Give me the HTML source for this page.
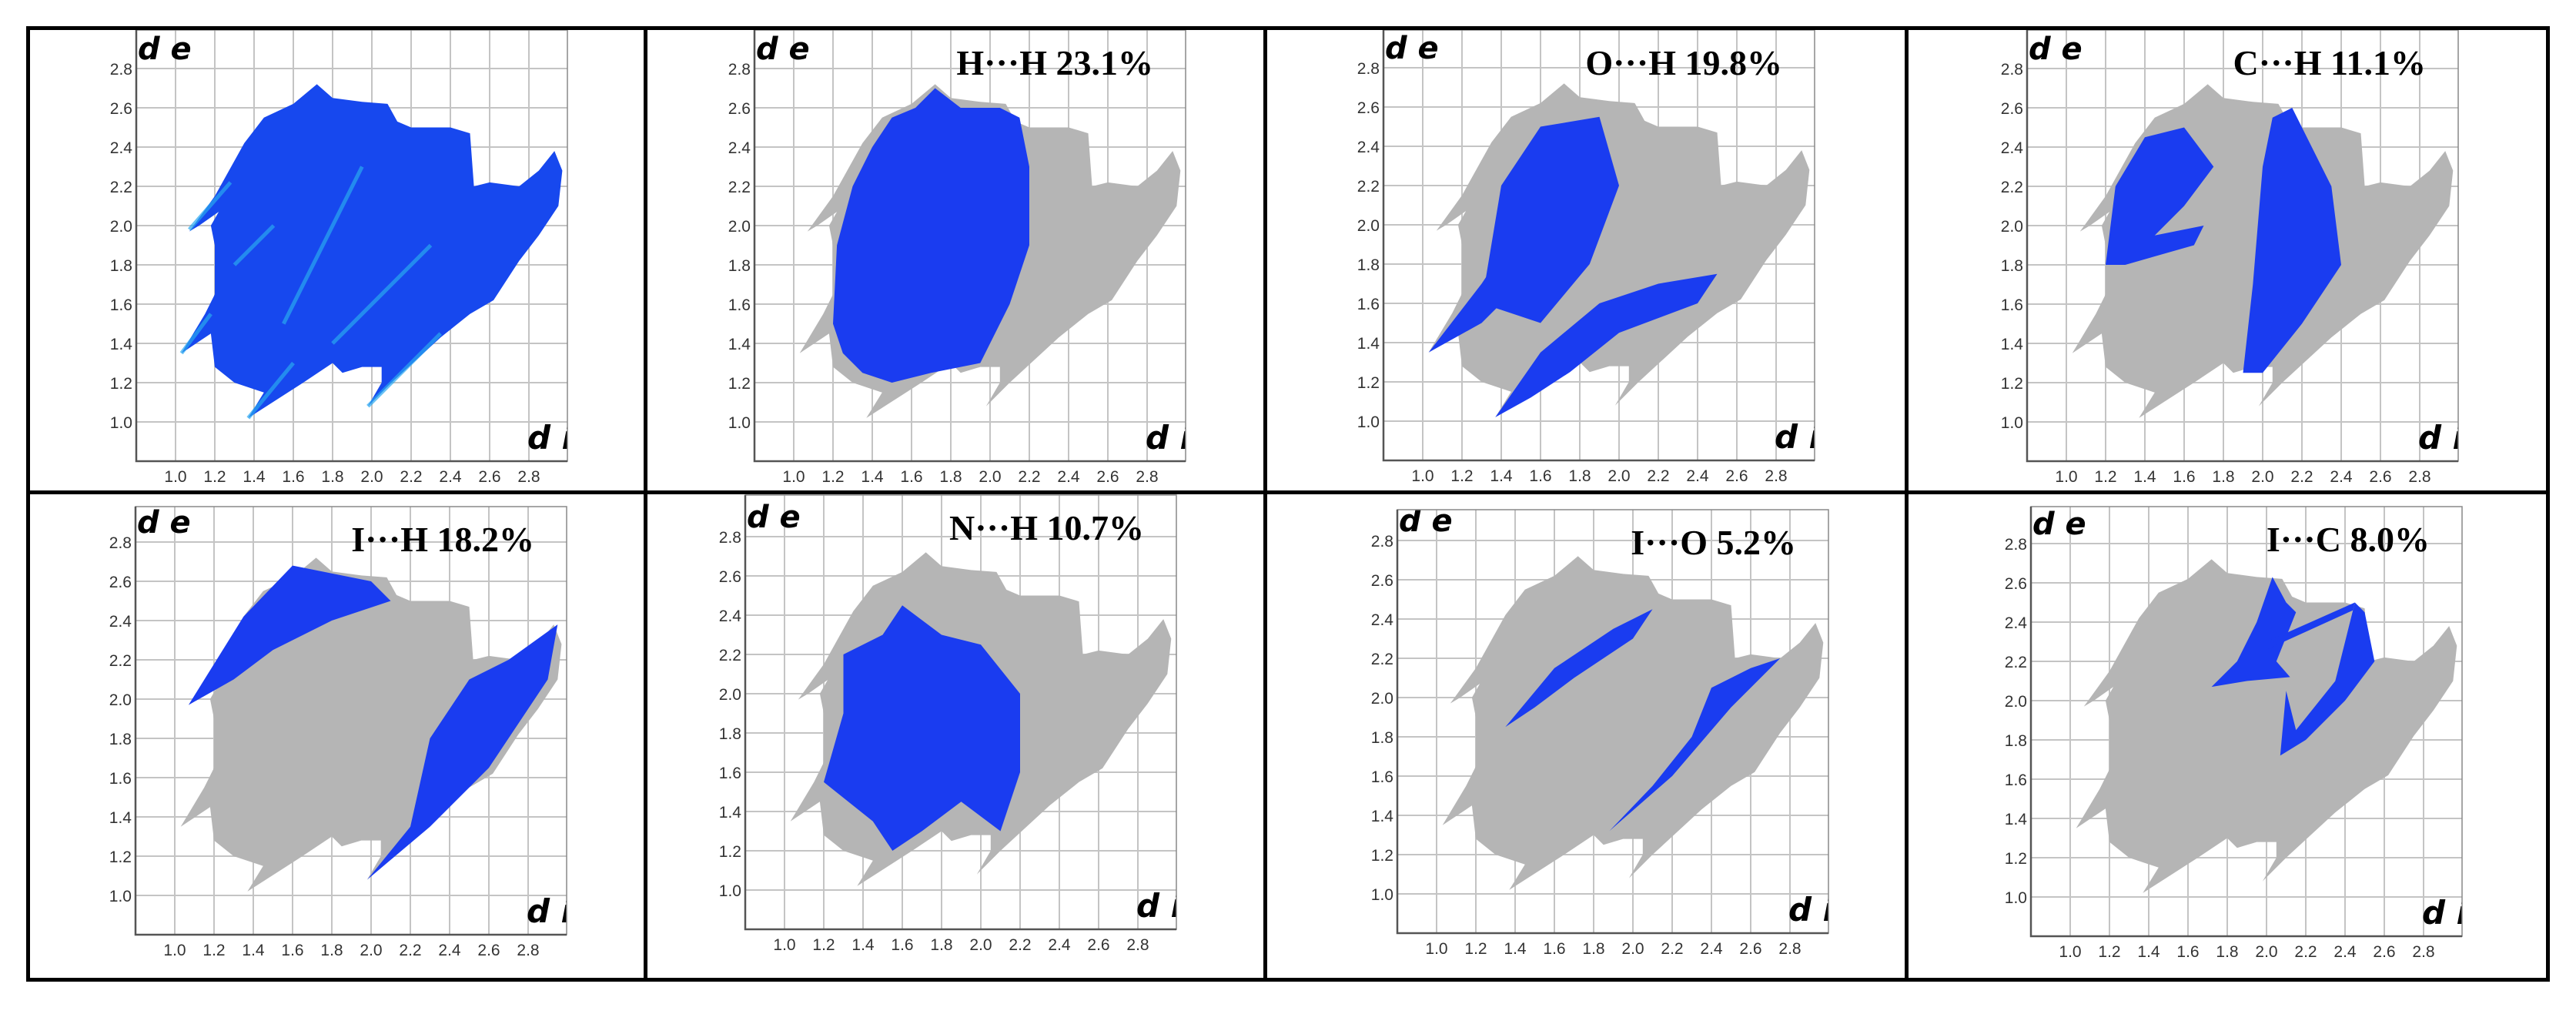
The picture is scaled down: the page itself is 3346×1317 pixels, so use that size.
<!DOCTYPE html>
<html><head><meta charset="utf-8"><style>
html,body{margin:0;padding:0;background:#fff;}
svg{display:block;}
</style></head><body>
<svg id="fig" xmlns="http://www.w3.org/2000/svg" width="3346" height="1317" viewBox="0 0 3346 1317">
<rect x="0" y="0" width="3346" height="1317" fill="#fff"/>
<g id="panels"></g>
<g fill="#000">
<rect x="34" y="34" width="3278" height="5"/>
<rect x="34" y="1270" width="3278" height="5"/>
<rect x="34" y="34" width="5" height="1241"/>
<rect x="3307" y="34" width="5" height="1241"/>
<rect x="34" y="637" width="3278" height="5"/>
<rect x="836" y="34" width="5" height="1241"/>
<rect x="1641" y="34" width="5" height="1241"/>
<rect x="2474" y="34" width="5" height="1241"/>
</g>
</svg>
<script>
// ---- data (di, de) ----
const tickValues = [1.0,1.2,1.4,1.6,1.8,2.0,2.2,2.4,2.6,2.8];
const tickLabels = ["1.0","1.2","1.4","1.6","1.8","2.0","2.2","2.4","2.6","2.8"];
const panelTitles = ["", "H\u00B7\u00B7\u00B7H 23.1%", "O\u00B7\u00B7\u00B7H 19.8%", "C\u00B7\u00B7\u00B7H 11.1%", "I\u00B7\u00B7\u00B7H 18.2%", "N\u00B7\u00B7\u00B7H 10.7%", "I\u00B7\u00B7\u00B7O 5.2%", "I\u00B7\u00B7\u00B7C 8.0%"];
const fullOutline = [[1.07,1.97],[1.2,2.15],[1.35,2.42],[1.45,2.55],[1.6,2.62],[1.72,2.72],[1.8,2.65],[1.95,2.63],[2.08,2.62],[2.13,2.53],[2.2,2.5],[2.4,2.5],[2.5,2.47],[2.52,2.2],[2.6,2.22],[2.75,2.2],[2.85,2.28],[2.93,2.38],[2.97,2.28],[2.95,2.1],[2.85,1.95],[2.75,1.82],[2.62,1.62],[2.5,1.55],[2.35,1.43],[2.1,1.2],[1.98,1.08],[2.05,1.2],[2.05,1.28],[1.95,1.28],[1.85,1.25],[1.8,1.3],[1.65,1.2],[1.37,1.02],[1.45,1.15],[1.3,1.2],[1.2,1.28],[1.18,1.45],[1.03,1.35],[1.15,1.55],[1.2,1.65],[1.2,1.9],[1.18,2.0],[1.22,2.07],[1.12,2.0]];
const p1Streaks = [[[1.07,1.98],[1.28,2.22]],[[1.03,1.35],[1.18,1.55]],[[1.37,1.02],[1.6,1.3]],[[1.98,1.08],[2.35,1.45]],[[1.3,1.8],[1.5,2.0]],[[1.55,1.5],[1.95,2.3]],[[1.8,1.4],[2.3,1.9]]];
const blueHH = [[[1.2,1.5],[1.22,1.9],[1.3,2.2],[1.4,2.4],[1.5,2.55],[1.62,2.6],[1.72,2.7],[1.85,2.6],[2.05,2.6],[2.15,2.55],[2.2,2.3],[2.2,1.9],[2.1,1.6],[1.95,1.3],[1.7,1.25],[1.5,1.2],[1.35,1.25],[1.25,1.35]]];
const blueOH = [[[1.03,1.35],[1.3,1.7],[1.5,2.0],[1.7,2.3],[1.8,2.4],[1.85,2.2],[1.6,1.8],[1.3,1.5]],[[1.37,1.02],[1.6,1.35],[1.9,1.6],[2.2,1.7],[2.5,1.75],[2.4,1.6],[2.0,1.45],[1.75,1.25],[1.55,1.12]],[[1.3,1.6],[1.4,2.2],[1.6,2.5],[1.9,2.55],[2.0,2.2],[1.85,1.8],[1.6,1.5]]];
const blueCH = [[[1.2,1.8],[1.25,2.2],[1.4,2.45],[1.6,2.5],[1.75,2.3],[1.6,2.1],[1.45,1.95],[1.7,2.0],[1.65,1.9],[1.3,1.8]],[[1.9,1.25],[1.95,1.7],[2.0,2.3],[2.05,2.55],[2.15,2.6],[2.35,2.2],[2.4,1.8],[2.2,1.5],[2.0,1.25]]];
const blueIH = [[[1.07,1.97],[1.35,2.42],[1.6,2.68],[2.0,2.6],[2.1,2.5],[1.8,2.4],[1.5,2.25],[1.3,2.1]],[[1.98,1.08],[2.2,1.35],[2.3,1.8],[2.5,2.1],[2.7,2.2],[2.95,2.38],[2.9,2.1],[2.6,1.65],[2.3,1.35]]];
const blueNH = [[[1.2,1.55],[1.3,1.9],[1.3,2.2],[1.5,2.3],[1.6,2.45],[1.8,2.3],[2.0,2.25],[2.2,2.0],[2.2,1.6],[2.1,1.3],[1.9,1.45],[1.7,1.3],[1.55,1.2],[1.45,1.35]]];
const blueIO = [[[1.35,1.85],[1.6,2.15],[1.9,2.35],[2.1,2.45],[2.0,2.3],[1.7,2.1],[1.5,1.95]],[[1.88,1.32],[2.2,1.6],[2.5,1.95],[2.65,2.1],[2.75,2.2],[2.6,2.15],[2.4,2.05],[2.3,1.8],[2.1,1.55]]];
const blueIC = [[[1.72,2.07],[1.85,2.2],[1.95,2.4],[2.03,2.63],[2.1,2.5],[2.15,2.45],[2.05,2.2],[2.12,2.12],[1.9,2.1]],[[2.0,2.3],[2.45,2.5],[2.44,2.46],[2.0,2.26]],[[2.07,1.72],[2.1,2.05],[2.15,1.85],[2.35,2.1],[2.45,2.5],[2.5,2.45],[2.55,2.2],[2.4,2.0],[2.2,1.8]]];
const blueSets = [null, blueHH, blueOH, blueCH, blueIH, blueNH, blueIO, blueIC];

// ---- layout ----
const layout = [
 {x10:228,y28:89,top:39},{x10:1031,y28:89,top:39},{x10:1848,y28:88,top:39},{x10:2684,y28:89,top:39},
 {x10:227,y28:704,top:658},{x10:1019,y28:697,top:643},{x10:1866,y28:702,top:662},{x10:2689,y28:706,top:658}];
const NS="http://www.w3.org/2000/svg";
const S=255;
function mk(tag,attrs,parent){const e=document.createElementNS(NS,tag);for(const k in attrs)e.setAttribute(k,attrs[k]);parent.appendChild(e);return e;}
const root=document.getElementById('panels');
layout.forEach((L,i)=>{
  const sx=v=>L.x10+(v-1.0)*S;
  const sy=v=>L.y28+(2.8-v)*S;
  const left=sx(0.8), right=sx(2.8)+50, bottom=sy(0.8);
  const g=mk('g',{},root);
  
  
  const cid='clip'+i;
  const cp=mk('clipPath',{id:cid},g);
  mk('rect',{x:left,y:L.top,width:right-left,height:bottom-L.top},cp);
  tickValues.forEach((v,k)=>{
    const gx=mk('line',{x1:sx(v),x2:sx(v),y1:L.top,y2:bottom,stroke:'#c4c4c4','stroke-width':2},g);
    
    
    const gy=mk('line',{x1:left,x2:right,y1:sy(v),y2:sy(v),stroke:'#c4c4c4','stroke-width':2},g);
    
    
    const tx=mk('text',{x:sx(v),y:bottom+27,'text-anchor':'middle','font-family':'Liberation Sans, sans-serif','font-size':21,fill:'#333'},g);
    tx.textContent=tickLabels[k];
    
    
    const ty=mk('text',{x:left-5,y:sy(v)+8,'text-anchor':'end','font-family':'Liberation Sans, sans-serif','font-size':21,fill:'#333'},g);
    ty.textContent=tickLabels[k];
    
    
  });
  const cg=mk('g',{'clip-path':'url(#'+cid+')'},g);
  const pts=a=>a.map(p=>sx(p[0]).toFixed(1)+','+sy(p[1]).toFixed(1)).join(' ');
  if(i===0){
    const f=mk('polygon',{points:pts(fullOutline),fill:'#1748ee'},cg);
    
    
    p1Streaks.forEach(s=>{
      const l=mk('polyline',{points:pts(s),fill:'none',stroke:'#2aa8f0','stroke-width':5,opacity:0.7},cg);
      
      
    });
  } else {
    const f=mk('polygon',{points:pts(fullOutline),fill:'#b5b5b5'},cg);
    
    
    blueSets[i].forEach(poly=>{
      const b=mk('polygon',{points:pts(poly),fill:'#1a3cf0'},cg);
      
      
    });
    const t=mk('text',{x:right-42,y:L.top+58,'text-anchor':'end','font-family':'Liberation Serif, serif','font-weight':'bold','font-size':46,fill:'#000'},g);
    t.textContent=panelTitles[i];
    
    
  }
  const de=mk('text',{x:left+2,y:sy(2.8)-12,'font-family':'DejaVu Sans, sans-serif','font-weight':'bold','font-style':'italic','font-size':40,fill:'#000'},cg);
  de.textContent='d e';
  
  
  const di=mk('text',{x:sx(2.8)-2,y:bottom-16,'font-family':'DejaVu Sans, sans-serif','font-weight':'bold','font-style':'italic','font-size':42,fill:'#000'},cg);
  di.textContent='d i';
  
  
  const fr=mk('rect',{x:left,y:L.top,width:right-left,height:bottom-L.top,fill:'none',stroke:'#888','stroke-width':1.5},g);
  
  
  const ax=mk('polyline',{points:left+','+L.top+' '+left+','+bottom+' '+right+','+bottom,fill:'none',stroke:'#555','stroke-width':2.5},g);
  
  
});
</script>
</body></html>
